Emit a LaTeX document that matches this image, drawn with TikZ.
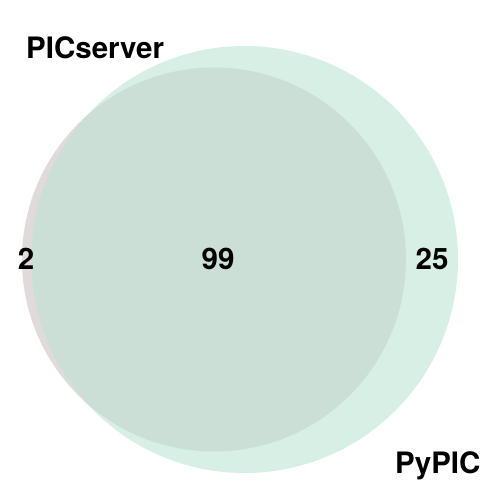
\documentclass[tikz,border=0pt]{standalone}
\usepackage{fontspec}
\setmainfont{TeX Gyre Heros}
\definecolor{leftc}{RGB}{224,218,218}
\definecolor{rightc}{RGB}{216,239,229}
\definecolor{bothc}{RGB}{203,223,214}
\tikzset{
  lbl/.style={font=\bfseries\fontsize{29.5}{33}\selectfont, inner sep=0pt, text=black},
  setc/.style={circle, inner sep=0pt, draw=none}
}
\begin{document}
\begin{tikzpicture}[x=1pt,y=-1pt]
\useasboundingbox[fill=white] (0,0) rectangle (480,480);
\node[setc, fill=leftc, minimum size=384pt] (A) at (214,259.5) {};
\node[setc, fill=rightc, minimum size=427pt] (B) at (244.5,259.5) {};
\begin{scope}
  \clip (214,259.5) circle (192pt);
  \fill[bothc] (244.5,259.5) circle (213.5pt);
\end{scope}
\node[lbl, anchor=base west] (tA) at (26,58) {PICserver};
\node[lbl, anchor=base west] (tB) at (395,473) {PyPIC};
\node[lbl, anchor=base] (nA) at (26,269) {2};
\node[lbl, anchor=base] (nAB) at (218,269) {99};
\node[lbl, anchor=base] (nB) at (432,269) {25};
\end{tikzpicture}
\end{document}
